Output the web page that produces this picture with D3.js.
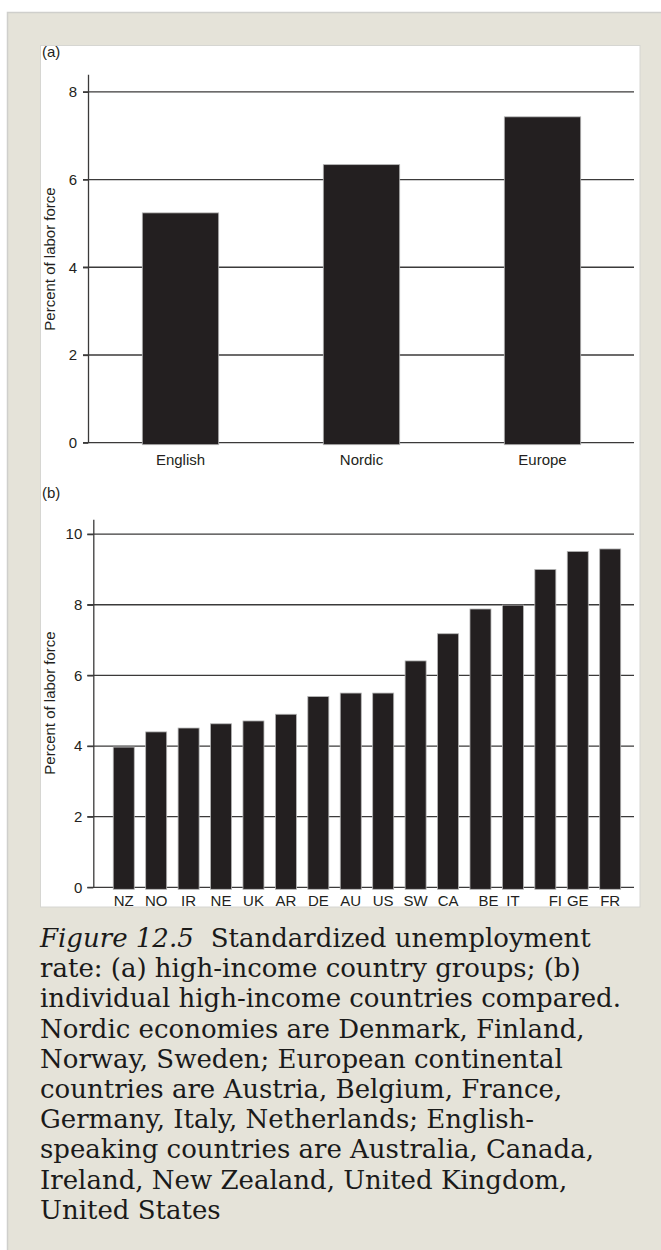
<!DOCTYPE html>
<html>
<head>
<meta charset="utf-8">
<script src="https://cdn.jsdelivr.net/npm/d3@7"></script>
<style>
  html, body { margin: 0; padding: 0; background: #ffffff; }
  svg { display: block; }
</style>
</head>
<body>
<svg id="fig" width="661" height="1250"></svg>
<script>
// Panel (a): country groups
const groupNames = ["English", "Nordic", "Europe"];
const groupRates = [5.24, 6.34, 7.43];
const groupTicks = [0, 2, 4, 6, 8];

// Panel (b): individual countries
const countryCodes = ["NZ", "NO", "IR", "NE", "UK", "AR", "DE", "AU", "US", "SW", "CA", "BE", "IT", "FI", "GE", "FR"];
const countryRates = [3.97, 4.40, 4.51, 4.63, 4.71, 4.90, 5.40, 5.50, 5.50, 6.41, 7.18, 7.88, 7.99, 9.00, 9.51, 9.58];
const countryTicks = [0, 2, 4, 6, 8, 10];

const yTitle = "Percent of labor force";

const captionLead = "Figure 12.5";
const captionLines = [
  "Standardized unemployment",
  "rate: (a) high-income country groups; (b)",
  "individual high-income countries compared.",
  "Nordic economies are Denmark, Finland,",
  "Norway, Sweden; European continental",
  "countries are Austria, Belgium, France,",
  "Germany, Italy, Netherlands; English-",
  "speaking countries are Australia, Canada,",
  "Ireland, New Zealand, United Kingdom,",
  "United States"
];

const INK = "#231f20";
const SANS = "'Liberation Sans', Arial, Helvetica, sans-serif";
const SERIF = "'DejaVu Serif', serif";

const svg = d3.select("#fig");

// page frame: beige panel holding a white figure box
svg.append("rect").attr("x", 0).attr("y", 0).attr("width", 661).attr("height", 1250).attr("fill", "#ffffff");
svg.append("rect").attr("x", 7.5).attr("y", 12.5).attr("width", 660).attr("height", 1250)
  .attr("fill", "#e5e3d9").attr("stroke", "#cfcfcc").attr("stroke-width", 1.5);
svg.append("rect").attr("x", 40.5).attr("y", 45.5).attr("width", 599.5).attr("height", 861.5)
  .attr("fill", "#ffffff").attr("stroke", "#d6d6d2").attr("stroke-width", 1);

function drawPanel(opt) {
  const g = svg.append("g");

  const y = d3.scaleLinear().domain([0, opt.yMax]).range([opt.yBase, opt.yTopPx]);
  const x = d3.scaleBand().domain(opt.cats).range(opt.xRange)
    .paddingInner(opt.padIn).paddingOuter(opt.padOut).align(opt.align);

  // horizontal rules at every tick, the zero rule doubling as the baseline
  g.append("g").selectAll("line").data(opt.ticks).join("line")
    .attr("x1", opt.axisX - (opt.tickLen)).attr("x2", opt.gridEnd)
    .attr("y1", d => y(d)).attr("y2", d => y(d))
    .attr("stroke", "#3b3a3a").attr("stroke-width", 1.3);

  // bars
  g.append("g").selectAll("rect").data(opt.vals).join("rect")
    .attr("x", (d, i) => x(opt.cats[i]))
    .attr("width", x.bandwidth())
    .attr("y", d => y(d))
    .attr("height", d => y(0) - y(d) + 2)
    .attr("fill", INK)
    .attr("stroke", "#b5b5b5").attr("stroke-width", 0.8);

  // value axis
  const ax = g.append("g").attr("transform", `translate(${opt.axisX},0)`)
    .call(d3.axisLeft(y).tickValues(opt.ticks).tickSize(opt.tickLen)
      .tickSizeOuter(0).tickPadding(opt.tickPad).tickFormat(d3.format("d")));
  ax.select(".domain").attr("stroke", "#3b3a3a").attr("stroke-width", 1.3);
  ax.selectAll(".tick line").attr("stroke", "#3b3a3a").attr("stroke-width", 1.3);
  ax.selectAll(".tick text").attr("fill", INK).attr("font-family", SANS).attr("font-size", 15);

  // category labels
  const cx = g.append("g").attr("transform", `translate(0,${opt.yBase})`)
    .call(d3.axisBottom(x).tickSize(0).tickPadding(opt.labelPad));
  cx.select(".domain").remove();
  cx.selectAll(".tick text").attr("fill", INK).attr("font-family", SANS).attr("font-size", 15)
    .attr("dx", d => (opt.labelShift && opt.labelShift[d]) || 0);

  // axis title
  g.append("text")
    .attr("transform", `translate(55,${opt.titleY}) rotate(-90)`)
    .attr("text-anchor", "middle")
    .attr("fill", INK).attr("font-family", SANS).attr("font-size", 15)
    .text(yTitle);

  // panel tag
  g.append("text").attr("x", 42).attr("y", opt.tagY)
    .attr("fill", INK).attr("font-family", SANS).attr("font-size", 15)
    .text(opt.tag);
}

drawPanel({
  tag: "(a)", tagY: 57,
  cats: groupNames, vals: groupRates, ticks: groupTicks,
  yMax: 8.4, yBase: 442.7, yTopPx: 74.3,
  xRange: [88, 635], padIn: 0.578, padOut: 0.3, align: 0.5,
  axisX: 88, gridEnd: 634, tickLen: 5, tickPad: 6,
  labelPad: 12, titleY: 259
});

drawPanel({
  tag: "(b)", tagY: 498,
  cats: countryCodes, vals: countryRates, ticks: countryTicks,
  yMax: 10.42, yBase: 887.3, yTopPx: 519.3,
  xRange: [93.3, 634], padIn: 0.352, padOut: 0.5125, align: 0.6,
  axisX: 93.3, gridEnd: 634, tickLen: 6, tickPad: 5,
  labelPad: 8.5, titleY: 703,
  labelShift: { BE: 8, FI: 10 }
});

// caption
const cap = svg.append("g").attr("fill", "#1a1a1a").attr("font-family", SERIF).attr("font-size", 26);
captionLines.forEach((line, i) => {
  const t = cap.append("text").attr("x", 40).attr("y", 947 + i * 30.2);
  if (i === 0) {
    t.append("tspan").attr("font-style", "italic").text(captionLead);
    t.append("tspan").attr("dx", 17).text(line);
  } else {
    t.text(line);
  }
});
</script>
</body>
</html>
